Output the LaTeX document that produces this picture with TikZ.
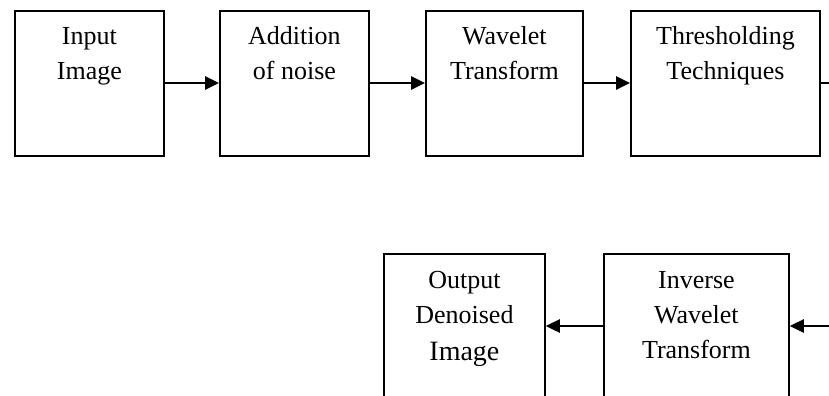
\documentclass[tikz,border=0pt]{standalone}
\usepackage{fontspec}
\setmainfont{Liberation Serif}
\usetikzlibrary{arrows.meta}
\def\u{0.75pt}
\tikzset{
  box/.style={draw, line width=1.4pt, rectangle, inner sep=0pt, anchor=north west, minimum height=145*\u},
  lbl/.style={anchor=base, inner sep=0pt, font=\fontsize{19.5}{26.25}\selectfont},
  conn/.style={line width=1.4pt, -{Triangle[length=10.5pt, width=10pt]}},
  plain/.style={line width=1.4pt}
}
\begin{document}
\begin{tikzpicture}[x=0.75pt, y=-0.75pt]
\useasboundingbox (0,0) rectangle (829,396);
\clip (0,0) rectangle (829,396);
% top row
\node[box, minimum width=149*\u] (b1) at (14,10) {};
\node[box, minimum width=149*\u] (b2) at (219,10) {};
\node[box, minimum width=157*\u] (b3) at (425,10) {};
\node[box, minimum width=189*\u] (b4) at (630,10) {};
% bottom row
\node[box, minimum width=161*\u, minimum height=150*\u] (b5) at (383,253) {};
\node[box, minimum width=185*\u, minimum height=146*\u] (b6) at (603,253) {};
% labels
\node[lbl] (t1) at (b1.center |- 0,45) {\begin{tabular}[t]{@{}c@{}}Input\\Image\end{tabular}};
\node[lbl] (t2) at (b2.center |- 0,45) {\begin{tabular}[t]{@{}c@{}}Addition\\of noise\end{tabular}};
\node[lbl] (t3) at (b3.center |- 0,45) {\begin{tabular}[t]{@{}c@{}}Wavelet\\Transform\end{tabular}};
\node[lbl] (t4) at (b4.center |- 0,45) {\begin{tabular}[t]{@{}c@{}}Thresholding\\Techniques\end{tabular}};
\node[lbl] (t5) at (b5.center |- 0,288) {\begin{tabular}[t]{@{}c@{}}Output\\Denoised\\[1.5pt]{\fontsize{21}{26.25}\selectfont Image}\end{tabular}};
\node[lbl] (t6) at (b6.center |- 0,288) {\begin{tabular}[t]{@{}c@{}}Inverse\\Wavelet\\Transform\end{tabular}};
% connectors
\coordinate (r1) at (829,83);
\coordinate (r2) at (829,326);
\draw[conn] (b1.east |- 0,83) -- (b2.west |- 0,83);
\draw[conn] (b2.east |- 0,83) -- (b3.west |- 0,83);
\draw[conn] (b3.east |- 0,83) -- (b4.west |- 0,83);
\draw[plain] (b4.east |- r1) -- (r1);
\draw[conn] (r2) -- (b6.east |- r2);
\draw[conn] (b6.west |- r2) -- (b5.east |- r2);
\end{tikzpicture}
\end{document}
